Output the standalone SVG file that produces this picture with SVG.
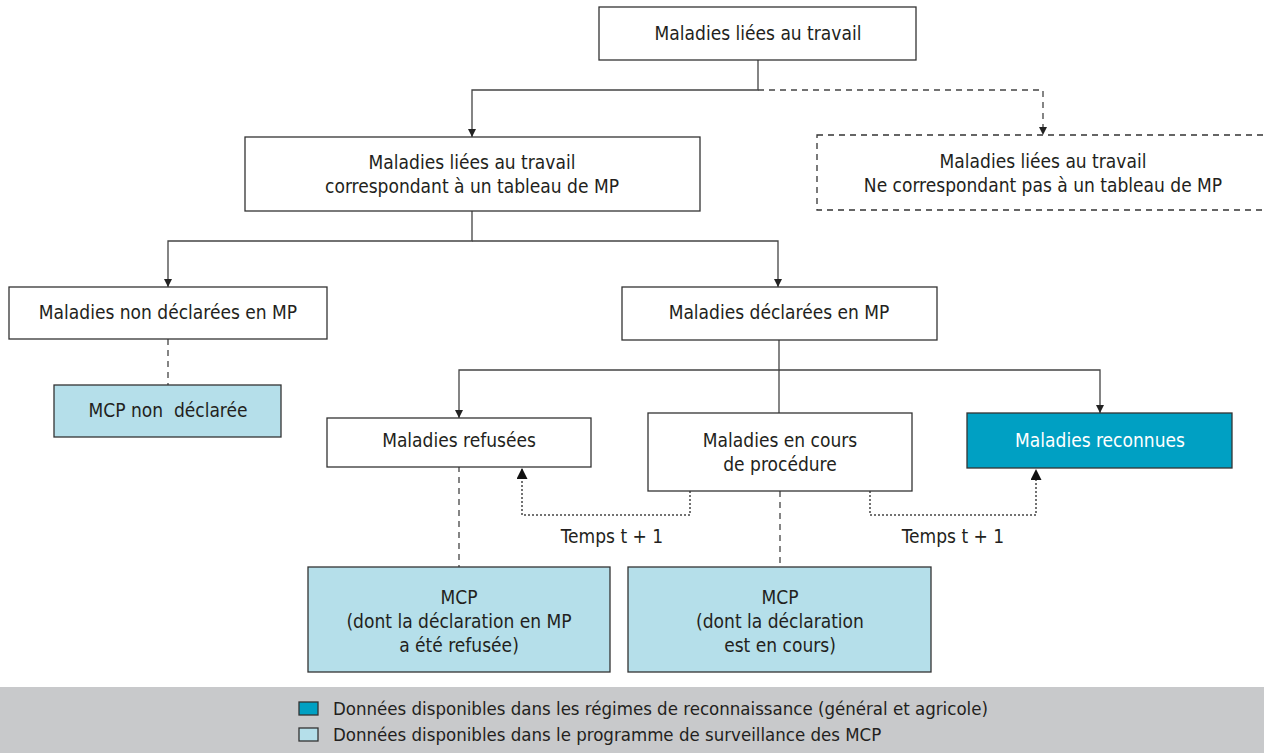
<svg xmlns="http://www.w3.org/2000/svg" width="1264" height="753" viewBox="0 0 1264 753">
<defs>
<style>
text{font-family:"Liberation Sans Narrow","DejaVu Sans Condensed","Liberation Sans",sans-serif;font-size:19px;fill:#231f20;text-anchor:middle}
.leg{font-size:18.5px;text-anchor:start}
.box{fill:#fff;stroke:#333;stroke-width:1.3}
.light{fill:#b5dfea;stroke:#333;stroke-width:1.3}
.dark{fill:#00a0c3;stroke:#333;stroke-width:1.3}
.dbox{fill:#fff;stroke:#333;stroke-width:1.3;stroke-dasharray:6 5}
.ln{fill:none;stroke:#444;stroke-width:1.3}
.dash{fill:none;stroke:#444;stroke-width:1.3;stroke-dasharray:6 5}
.dot{fill:none;stroke:#444;stroke-width:1.5;stroke-dasharray:2 2}
</style>
<marker id="ar" viewBox="0 0 10 10" refX="10" refY="5" markerWidth="8" markerHeight="8" markerUnits="userSpaceOnUse" orient="auto"><path d="M0,0L10,5L0,10z" fill="#222"/></marker>
<marker id="ar2" viewBox="0 0 10 10" refX="10" refY="5" markerWidth="11" markerHeight="11" markerUnits="userSpaceOnUse" orient="auto"><path d="M0,0L10,5L0,10z" fill="#111"/></marker>
</defs>
<rect width="1264" height="753" fill="#fff"/>
<g id="connectors">
<path class="ln" d="M758,60V90H472V137" marker-end="url(#ar)"/>
<path class="dash" d="M758,90H1043V135" marker-end="url(#ar)"/>
<path class="ln" d="M472,211V241H168V287" marker-end="url(#ar)"/>
<path class="ln" d="M472,241H778V287" marker-end="url(#ar)"/>
<path class="dash" d="M168,339V385"/>
<path class="ln" d="M779,340V370H459V418" marker-end="url(#ar)"/>
<path class="ln" d="M779,370V413"/>
<path class="ln" d="M779,370H1100V413" marker-end="url(#ar)"/>
<path class="dash" d="M459,455V567"/>
<path class="dash" d="M780,491V567"/>
<path class="dot" d="M690,491V515H522V468" marker-end="url(#ar2)"/>
<path class="dot" d="M870,491V515H1036V469" marker-end="url(#ar2)"/>
</g>
<g id="n-top"><rect class="box" x="599" y="7" width="317" height="53"/><text x="758" y="40">Maladies liées au travail</text></g>
<g id="n-tableau"><rect class="box" x="245" y="137" width="455" height="74"/><text x="472" y="169">Maladies liées au travail</text><text x="472" y="193">correspondant à un tableau de MP</text></g>
<g id="n-hors"><rect class="dbox" x="817" y="135" width="460" height="75"/><text x="1043" y="168">Maladies liées au travail</text><text x="1043" y="192">Ne correspondant pas à un tableau de MP</text></g>
<g id="n-nondecl"><rect class="box" x="9" y="287" width="318" height="52"/><text x="168" y="319">Maladies non déclarées en MP</text></g>
<g id="n-decl"><rect class="box" x="622" y="287" width="315" height="53"/><text x="779" y="319">Maladies déclarées en MP</text></g>
<g id="n-mcpnd"><rect class="light" x="54" y="385" width="227" height="52"/><text x="168" y="417" xml:space="preserve">MCP non  déclarée</text></g>
<g id="n-refus"><rect class="box" x="327" y="418" width="264" height="49"/><text x="459" y="447">Maladies refusées</text></g>
<g id="n-cours"><rect class="box" x="648" y="413" width="264" height="78"/><text x="780" y="447">Maladies en cours</text><text x="780" y="471">de procédure</text></g>
<g id="n-reconnues"><rect class="dark" x="967" y="413" width="265" height="55"/><text x="1100" y="447" style="fill:#fff">Maladies reconnues</text></g>
<g id="n-mcpref"><rect class="light" x="308" y="567" width="302" height="105"/><text x="459" y="604">MCP</text><text x="459" y="628">(dont la déclaration en MP</text><text x="459" y="652">a été refusée)</text></g>
<g id="n-mcpcours"><rect class="light" x="628" y="567" width="303" height="105"/><text x="780" y="604">MCP</text><text x="780" y="628">(dont la déclaration</text><text x="780" y="652">est en cours)</text></g>
<g id="labels"><text x="612" y="543">Temps t + 1</text><text x="953" y="543">Temps t + 1</text></g>
<g id="legend">
<rect x="0" y="687" width="1264" height="66" fill="#c8c9cb"/>
<rect class="dark" x="299" y="702" width="19" height="13"/>
<text class="leg" x="333" y="715">Données disponibles dans les régimes de reconnaissance (général et agricole)</text>
<rect class="light" x="299" y="728" width="19" height="13"/>
<text class="leg" x="333" y="741">Données disponibles dans le programme de surveillance des MCP</text>
</g>
</svg>
